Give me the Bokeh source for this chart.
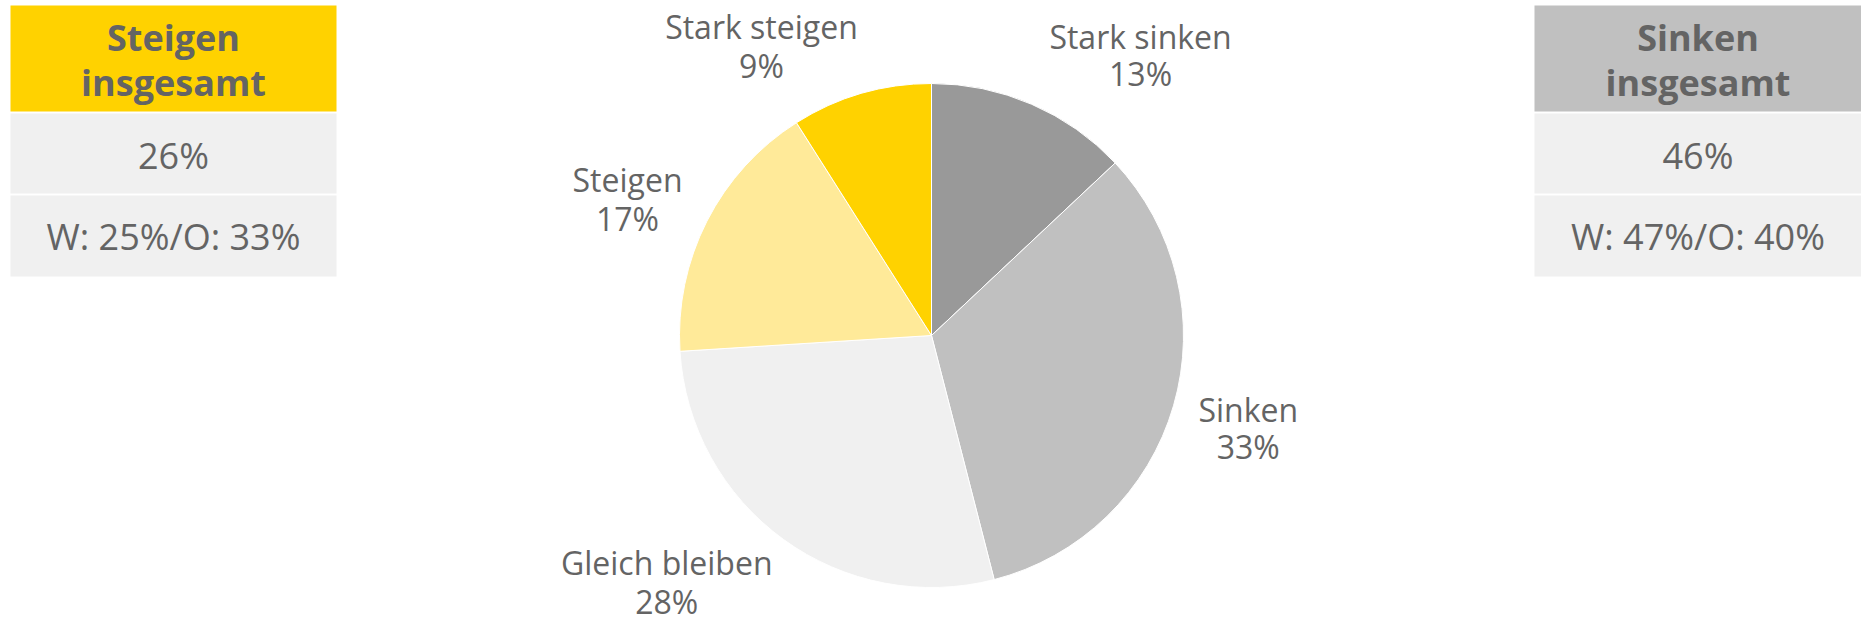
import numpy as np
from bokeh.plotting import figure
from bokeh.models import Range1d
from bokeh.core.properties import value
from bokeh.embed import file_html
from bokeh.resources import INLINE

# ---------------- data ----------------
categories = ["Stark sinken", "Sinken", "Gleich bleiben", "Steigen", "Stark steigen"]
shares = [13, 33, 28, 17, 9]
slice_colors = ["#999999", "#C0C0C0", "#F0F0F0", "#FFEA99", "#FFD200"]

box_titles = [["Steigen", "insgesamt"], ["Sinken", "insgesamt"]]
box_totals = [26, 46]
box_west = [25, 47]
box_ost = [33, 40]
box_header_colors = ["#FFD200", "#C0C0C0"]

# ---------------- layout ----------------
W, H = 1861, 631
TXT = "#646464"
FONT = value("Open Sans")
TOFF = 12  # baseline correction for rendered text


def Y(py):
    return H - py


def TY(py):
    return H - py + TOFF


p = figure(width=W, height=H, x_range=Range1d(0, W), y_range=Range1d(0, H),
           output_backend="svg", toolbar_location=None, min_border=0)
p.axis.visible = False
p.grid.visible = False
p.outline_line_color = None
p.background_fill_color = "white"
p.border_fill_color = "white"

# ---- pie ----
cx, cy, R = 931, Y(335), 252
frac = np.array(shares, dtype=float) / sum(shares)
cum = np.concatenate([[0], np.cumsum(frac)])
theta0 = 2 * np.pi * cum[:-1]
theta1 = 2 * np.pi * cum[1:]
p.wedge(x=[cx] * len(shares), y=[cy] * len(shares), radius=R,
        start_angle=list(np.pi / 2 - theta0), end_angle=list(np.pi / 2 - theta1),
        direction="clock", fill_color=slice_colors, line_color="white", line_width=1)

# label positions: mid-angle with small nudges
label_dtheta = [13.4, 0.1, 11.0, -2.9, -14.3]
label_r = [349, 330, 362, 333, 335]
mid = np.degrees(np.pi * (cum[:-1] + cum[1:]))
ang = np.radians(mid + np.array(label_dtheta))
ax = cx + np.array(label_r) * np.sin(ang)
ay = cy + np.array(label_r) * np.cos(ang) + TOFF
gap = [18.5, 18.5, 19.5, 19.5, 19.5]
fs = 32
half_cap = 11.4
name_y = [a + g - half_cap for a, g in zip(ay, gap)]
pct_y = [a - g - half_cap for a, g in zip(ay, gap)]
p.text(x=list(ax), y=name_y, text=categories, text_align="center", text_baseline="alphabetic",
       text_font=FONT, text_font_size=f"{fs}px", text_color=TXT)
p.text(x=list(ax), y=pct_y, text=[f"{s}%" for s in shares], text_align="center",
       text_baseline="alphabetic", text_font=FONT, text_font_size=f"{fs}px", text_color=TXT)

# ---- side boxes ----
box_lr = [(10, 336), (1534, 1861)]
for i in range(2):
    l, r = box_lr[i]
    xc = (l + r) / 2
    p.quad(left=[l], right=[r], top=[Y(5)], bottom=[Y(111)], fill_color=box_header_colors[i], line_color=None)
    p.quad(left=[l, l], right=[r, r], top=[Y(113), Y(195)], bottom=[Y(193), Y(276)],
           fill_color="#F0F0F0", line_color=None)
    p.text(x=[xc, xc], y=[TY(49), TY(94)], text=box_titles[i], text_align="center",
           text_baseline="alphabetic", text_font=FONT, text_font_size="36px",
           text_font_style="bold", text_color=TXT)
    p.text(x=[xc], y=[TY(167)], text=[f"{box_totals[i]}%"], text_align="center",
           text_baseline="alphabetic", text_font=FONT, text_font_size="36px", text_color=TXT)
    p.text(x=[xc], y=[TY(248)], text=[f"W: {box_west[i]}%/O: {box_ost[i]}%"], text_align="center",
           text_baseline="alphabetic", text_font=FONT, text_font_size="36px", text_color=TXT)

open("out.html", "w").write(file_html(p, INLINE))
